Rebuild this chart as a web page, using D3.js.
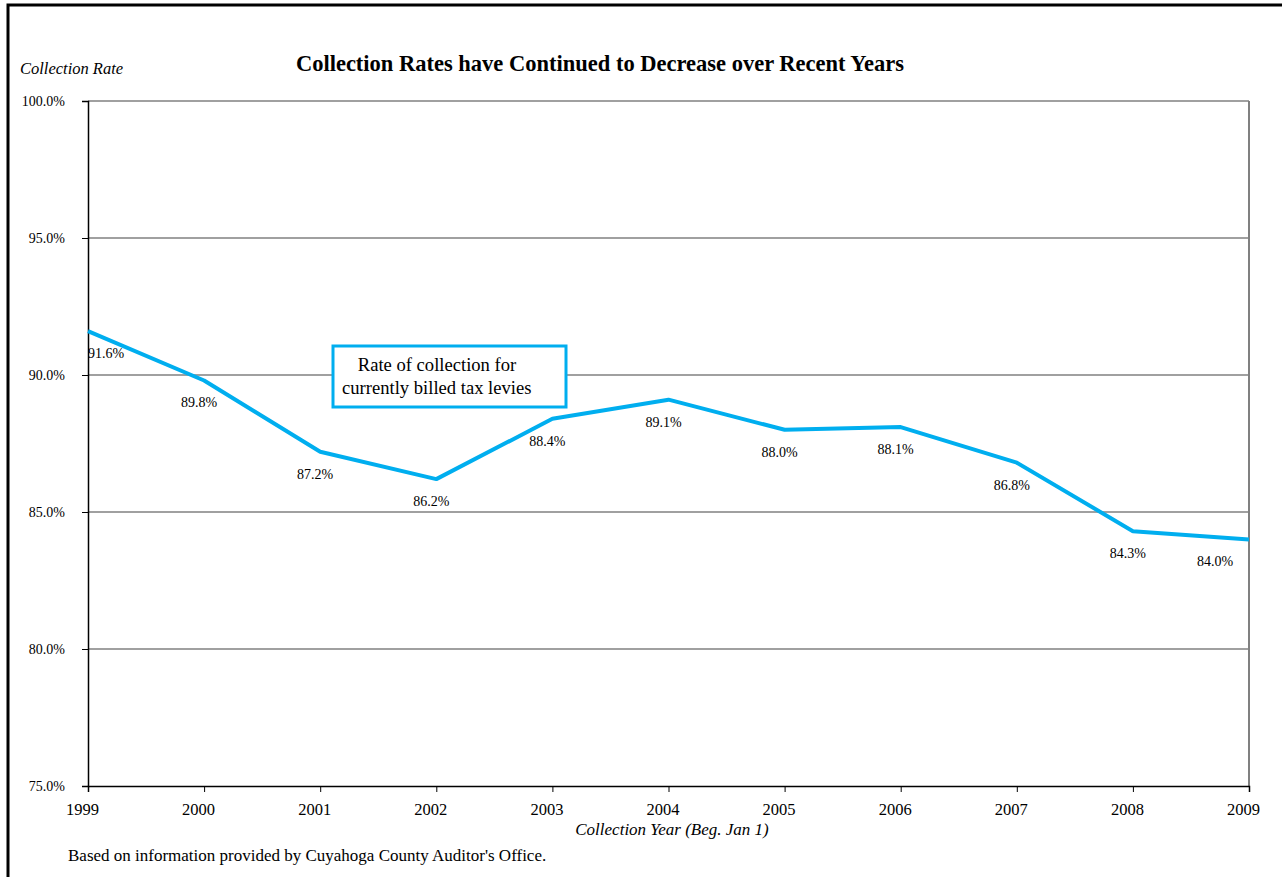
<!DOCTYPE html>
<html>
<head>
<meta charset="utf-8">
<script src="https://cdn.jsdelivr.net/npm/d3@7"></script>
<style>
  body { margin: 0; background: #fff; }
  svg text { font-family: "Liberation Serif", "Times New Roman", serif; fill: #000; }
</style>
</head>
<body>
<svg id="chart" width="1282" height="877"></svg>
<script>
var years = [1999, 2000, 2001, 2002, 2003, 2004, 2005, 2006, 2007, 2008, 2009]
var rates = [91.6, 89.8, 87.2, 86.2, 88.4, 89.1, 88.0, 88.1, 86.8, 84.3, 84.0]
var yTicks = [75, 80, 85, 90, 95, 100]
var noteLines = ["Rate of collection for", "currently billed tax levies"]

var svg = d3.select("#chart")
var margin = { left: 88, right: 33, top: 101, bottom: 91 }
var width = 1282 - margin.left - margin.right
var height = 877 - margin.top - margin.bottom
var blue = "#00aeef"
var serif = "Liberation Serif"

// outer frame, runs off the right and bottom edges
svg.append("rect")
  .attr("x", 8).attr("y", 5)
  .attr("width", 1300).attr("height", 900)
  .attr("fill", "none").attr("stroke", "#000").attr("stroke-width", 3)

var g = svg.append("g")
  .attr("transform", "translate(" + margin.left + "," + margin.top + ")")

var x = d3.scaleLinear().domain([1999, 2009]).range([0, width])
var y = d3.scaleLinear().domain([75, 100]).range([height, 0])

// gridlines
g.append("g")
  .selectAll("line")
  .data(yTicks.slice(1))
  .enter().append("line")
  .attr("x1", 0).attr("x2", width)
  .attr("y1", function(d) { return y(d) }).attr("y2", function(d) { return y(d) })
  .attr("stroke", "#808080").attr("stroke-width", 1.3)

g.append("line")
  .attr("x1", width).attr("x2", width).attr("y1", 0).attr("y2", height)
  .attr("stroke", "#808080").attr("stroke-width", 2)

// y axis
var yAxis = g.append("g")
  .call(d3.axisLeft(y).tickValues(yTicks).tickSize(6).tickPadding(17)
    .tickFormat(function(d) { return d.toFixed(1) + "%" }))
yAxis.select(".domain").attr("stroke", "#000").attr("stroke-width", 1.5)
yAxis.selectAll(".tick line").attr("stroke", "#000")
yAxis.selectAll("text")
  .style("font-size", "14px").style("font-family", serif)

// x axis
var xAxis = g.append("g")
  .attr("transform", "translate(0," + height + ")")
  .call(d3.axisBottom(x).tickValues(years).tickSize(6).tickPadding(11)
    .tickFormat(d3.format("d")))
xAxis.select(".domain").attr("stroke", "#000").attr("stroke-width", 1.5)
xAxis.selectAll(".tick line").attr("stroke", "#000")
xAxis.selectAll("text")
  .attr("dx", -6)
  .style("font-size", "16.5px").style("font-family", serif)

// line
var line = d3.line()
  .x(function(d, i) { return x(years[i]) })
  .y(function(d) { return y(d) })
g.append("path")
  .datum(rates)
  .attr("d", line)
  .attr("fill", "none")
  .attr("stroke", blue)
  .attr("stroke-width", 4)
  .attr("stroke-linejoin", "bevel")

// data labels
g.append("g")
  .selectAll("text")
  .data(rates)
  .enter().append("text")
  .attr("x", function(d, i) {
    var px = x(years[i]) - 5
    return Math.max(18, Math.min(width - 34, px))
  })
  .attr("y", function(d) { return y(d) + 27 })
  .attr("text-anchor", "middle")
  .style("font-size", "14px")
  .text(function(d) { return d.toFixed(1) + "%" })

// callout box
var note = g.append("g").attr("transform", "translate(" + (333 - margin.left) + "," + (346 - margin.top) + ")")
note.append("rect")
  .attr("width", 233).attr("height", 61)
  .attr("fill", "#fff").attr("stroke", blue).attr("stroke-width", 3)
note.append("text").attr("x", 104).attr("y", 25).attr("text-anchor", "middle")
  .style("font-size", "18.6px").text(noteLines[0])
note.append("text").attr("x", 9).attr("y", 48)
  .style("font-size", "18.6px").text(noteLines[1])

// titles
svg.append("text")
  .attr("x", 600).attr("y", 71).attr("text-anchor", "middle")
  .style("font-size", "22.5px").style("font-weight", "bold")
  .text("Collection Rates have Continued to Decrease over Recent Years")
svg.append("text")
  .attr("x", 20).attr("y", 74)
  .style("font-size", "16.5px").style("font-style", "italic")
  .text("Collection Rate")
svg.append("text")
  .attr("x", 672).attr("y", 835).attr("text-anchor", "middle")
  .style("font-size", "17px").style("font-style", "italic")
  .text("Collection Year (Beg. Jan 1)")
svg.append("text")
  .attr("x", 68).attr("y", 861)
  .style("font-size", "17px")
  .text("Based on information provided by Cuyahoga County Auditor's Office.")
</script>
</body>
</html>
